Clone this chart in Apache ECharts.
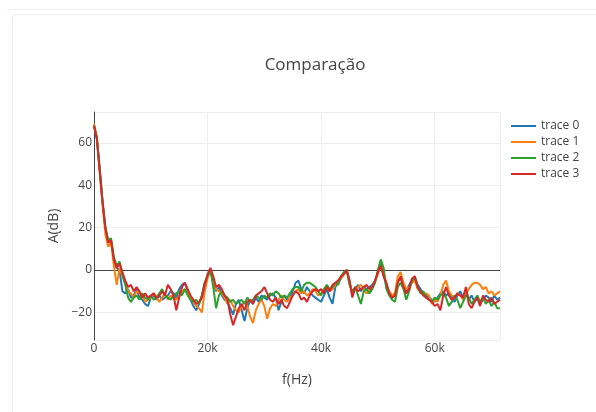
<!DOCTYPE html>
<html>
<head>
<meta charset="utf-8">
<script src="https://cdn.jsdelivr.net/npm/echarts@6/dist/echarts.min.js"></script>
<style>
  html, body { margin: 0; padding: 0; background: #fff; }
  body { width: 596px; height: 412px; position: relative; overflow: hidden; }
  .topline { position: absolute; left: 7px; top: 9px; right: 0; height: 1px; background: #f2f2f2; }
  .card { position: absolute; left: 12px; top: 14px; width: 600px; height: 420px;
          border: 1px solid #eeeeee; border-radius: 5px; background: #fff; }
  #chart { position: absolute; left: 0; top: 0; width: 596px; height: 412px; }
</style>
</head>
<body>
<div class="topline"></div>
<div class="card"></div>
<div id="chart"></div>
<script>
// Spectrum sampled every 500 Hz, from 0 Hz up to 71.5 kHz
const freqStep = 500;

const trace0 = [
  68, 62, 47, 32, 20, 13, 14, 5, 1, 0,
  -10, -11, -9, -13, -12, -9, -13, -14, -16, -17,
  -13, -12, -14, -12, -14, -13, -12, -10, -11, -13,
  -9, -7, -6, -10, -14, -17, -19, -16, -12, -6,
  -3, 0, -6, -10, -8, -12, -14, -15, -18, -21,
  -16, -14, -19, -24, -18, -14, -16, -13, -15, -12,
  -13, -14, -12, -11, -13, -19, -15, -12, -14, -13,
  -10, -6, -5, -9, -11, -8, -10, -12, -13, -14,
  -15, -12, -9, -13, -16, -8, -6, -4, -2, 0,
  -5, -12, -9, -7, -10, -8, -9, -8, -7, -5,
  -1, 3, -2, -8, -11, -13, -12, -5, -4, -8,
  -10, -7, -5, -4, -7, -9, -11, -12, -13, -14,
  -15, -13, -11, -10, -12, -11, -13, -15, -12, -10,
  -13, -9, -14, -12, -15, -13, -16, -14, -12, -13,
  -15, -12, -14, -13
];

const trace1 = [
  69, 63, 47, 31, 17, 11, 13, 2, -7, 1,
  -3, -6, -10, -11, -13, -10, -11, -12, -15, -14,
  -13, -11, -13, -15, -13, -11, -14, -12, -13, -14,
  -12, -10, -9, -11, -13, -15, -17, -18, -20, -10,
  -4, 0, -5, -9, -10, -11, -13, -16, -14, -17,
  -19, -20, -17, -15, -17, -22, -25, -19, -16, -14,
  -17, -23, -18, -16, -17, -14, -12, -14, -15, -13,
  -12, -10, -9, -11, -10, -12, -11, -9, -10, -12,
  -11, -9, -8, -10, -9, -7, -5, -4, -2, 0,
  -6, -11, -9, -8, -7, -9, -11, -10, -8, -5,
  -2, 2, -1, -7, -10, -12, -11, -3, -1, -6,
  -9, -8, -6, -5, -9, -10, -12, -11, -12, -16,
  -14, -15, -12, -7, -5, -10, -12, -13, -11, -12,
  -14, -11, -9, -7, -6, -6, -7, -9, -8, -11,
  -10, -12, -11, -10
];

const trace2 = [
  68, 62, 48, 33, 20, 14, 15, 6, 2, 4,
  -2, -7, -13, -15, -13, -12, -14, -11, -13, -14,
  -12, -14, -13, -11, -9, -12, -13, -14, -12, -11,
  -10, -12, -9, -12, -14, -15, -14, -16, -12, -6,
  -3, 0, -8, -18, -12, -10, -12, -13, -15, -14,
  -16, -15, -14, -16, -13, -15, -14, -12, -13, -14,
  -12, -13, -11, -12, -10, -11, -13, -12, -13, -11,
  -9, -8, -8, -10, -7, -6, -6, -7, -8, -10,
  -12, -9, -7, -9, -8, -6, -7, -3, -1, 0,
  -7, -10, -8, -12, -16, -10, -9, -11, -9, -6,
  0, 5, 1, -9, -12, -14, -15, -8, -6, -9,
  -14, -10, -5, -3, -8, -11, -10, -13, -14, -15,
  -13, -14, -12, -11, -13, -17, -15, -12, -14, -18,
  -15, -12, -13, -16, -14, -12, -15, -13, -16, -14,
  -17, -15, -18, -18
];

const trace3 = [
  68, 62, 47, 32, 20, 13, 14, 5, 1, 3,
  -1, -5, -8, -7, -10, -8, -10, -13, -11, -13,
  -12, -11, -13, -12, -10, -12, -7, -9, -12, -19,
  -13, -8, -6, -9, -12, -14, -16, -15, -13, -7,
  -2, 1, -3, -8, -7, -9, -12, -14, -21, -26,
  -22, -18, -16, -19, -15, -14, -16, -12, -11, -10,
  -8, -11, -14, -15, -13, -16, -14, -17, -18, -15,
  -12, -10, -11, -14, -13, -15, -12, -10, -9, -10,
  -9, -11, -8, -10, -7, -6, -5, -3, -2, 0,
  -5, -13, -8, -10, -9, -8, -7, -9, -8, -5,
  -1, 2, -3, -6, -11, -13, -12, -6, -3, -8,
  -11, -9, -4, -3, -8, -10, -12, -13, -14, -15,
  -17, -16, -19, -12, -8, -12, -14, -13, -11, -12,
  -13, -8, -16, -18, -15, -13, -17, -12, -14, -15,
  -13, -16, -15, -14
];

const traceNames = ['trace 0', 'trace 1', 'trace 2', 'trace 3'];
const traceValues = [trace0, trace1, trace2, trace3];
const traceColors = ['#1f77b4', '#ff7f0e', '#2ca02c', '#d62728'];

const xTicks = { min: 0, max: 71500, interval: 20000 };
const yTicks = { min: -33, max: 74.5 };
const yTickValues = [-20, 0, 20, 40, 60];

const font = '"Open Sans", "DejaVu Sans", sans-serif';
const textColor = '#444';

function toPairs(values) {
  return values.map((v, i) => [i * freqStep, v]);
}

const series = traceValues.map((vals, k) => ({
  name: traceNames[k],
  type: 'line',
  data: toPairs(vals),
  showSymbol: false,
  symbol: 'none',
  lineStyle: { width: 2, color: traceColors[k] },
  itemStyle: { color: traceColors[k] },
  z: 3 + k,
  animation: false
}));

// y = 0 reference line
series[0].markLine = {
  silent: true,
  symbol: 'none',
  animation: false,
  label: { show: false },
  lineStyle: { color: '#444', width: 1, type: 'solid' },
  data: [{ yAxis: 0 }],
  z: 2
};

const chart = echarts.init(document.getElementById('chart'), null, { renderer: 'canvas' });

chart.setOption({
  animation: false,
  backgroundColor: 'transparent',
  textStyle: { fontFamily: font },
  title: {
    text: 'Comparação',
    left: 310,
    top: 52,
    textAlign: 'center',
    textStyle: { fontFamily: font, fontSize: 17, fontWeight: 'normal', color: textColor }
  },
  legend: {
    orient: 'vertical',
    left: 511,
    top: 120,
    padding: 0,
    itemWidth: 25,
    itemHeight: 2,
    itemGap: 4,
    icon: 'rect',
    data: traceNames,
    textStyle: { fontFamily: font, fontSize: 12, color: textColor, padding: [0, 0, 0, 0], lineHeight: 12 }
  },
  grid: { left: 94, top: 112, width: 406, height: 228, containLabel: false },
  xAxis: {
    type: 'value',
    min: xTicks.min,
    max: xTicks.max,
    interval: xTicks.interval,
    name: 'f(Hz)',
    nameLocation: 'middle',
    nameGap: 33,
    nameTextStyle: { fontFamily: font, fontSize: 14, color: textColor },
    axisLine: { show: false },
    axisTick: { show: false },
    axisLabel: {
      fontFamily: font, fontSize: 12, color: textColor, margin: 3,
      showMaxLabel: false,
      formatter: v => v === 0 ? '0' : (v / 1000) + 'k'
    },
    splitLine: { show: true, lineStyle: { color: '#eeeeee', width: 1 } }
  },
  yAxis: {
    type: 'value',
    min: yTicks.min,
    max: yTicks.max,
    name: 'A(dB)',
    nameLocation: 'middle',
    nameGap: 24,
    nameRotate: 90,
    nameTextStyle: { fontFamily: font, fontSize: 14, color: textColor },
    axisLine: { show: true, lineStyle: { color: '#444', width: 1 } },
    axisTick: { show: false },
    axisLabel: {
      fontFamily: font, fontSize: 12, color: textColor, margin: 2,
      customValues: yTickValues,
      formatter: v => (v < 0 ? '\u2212' + Math.abs(v) : String(v))
    },
    splitLine: { show: true, lineStyle: { color: '#eeeeee', width: 1 } },
    splitNumber: 5
  },
  series: series
});
</script>
</body>
</html>
